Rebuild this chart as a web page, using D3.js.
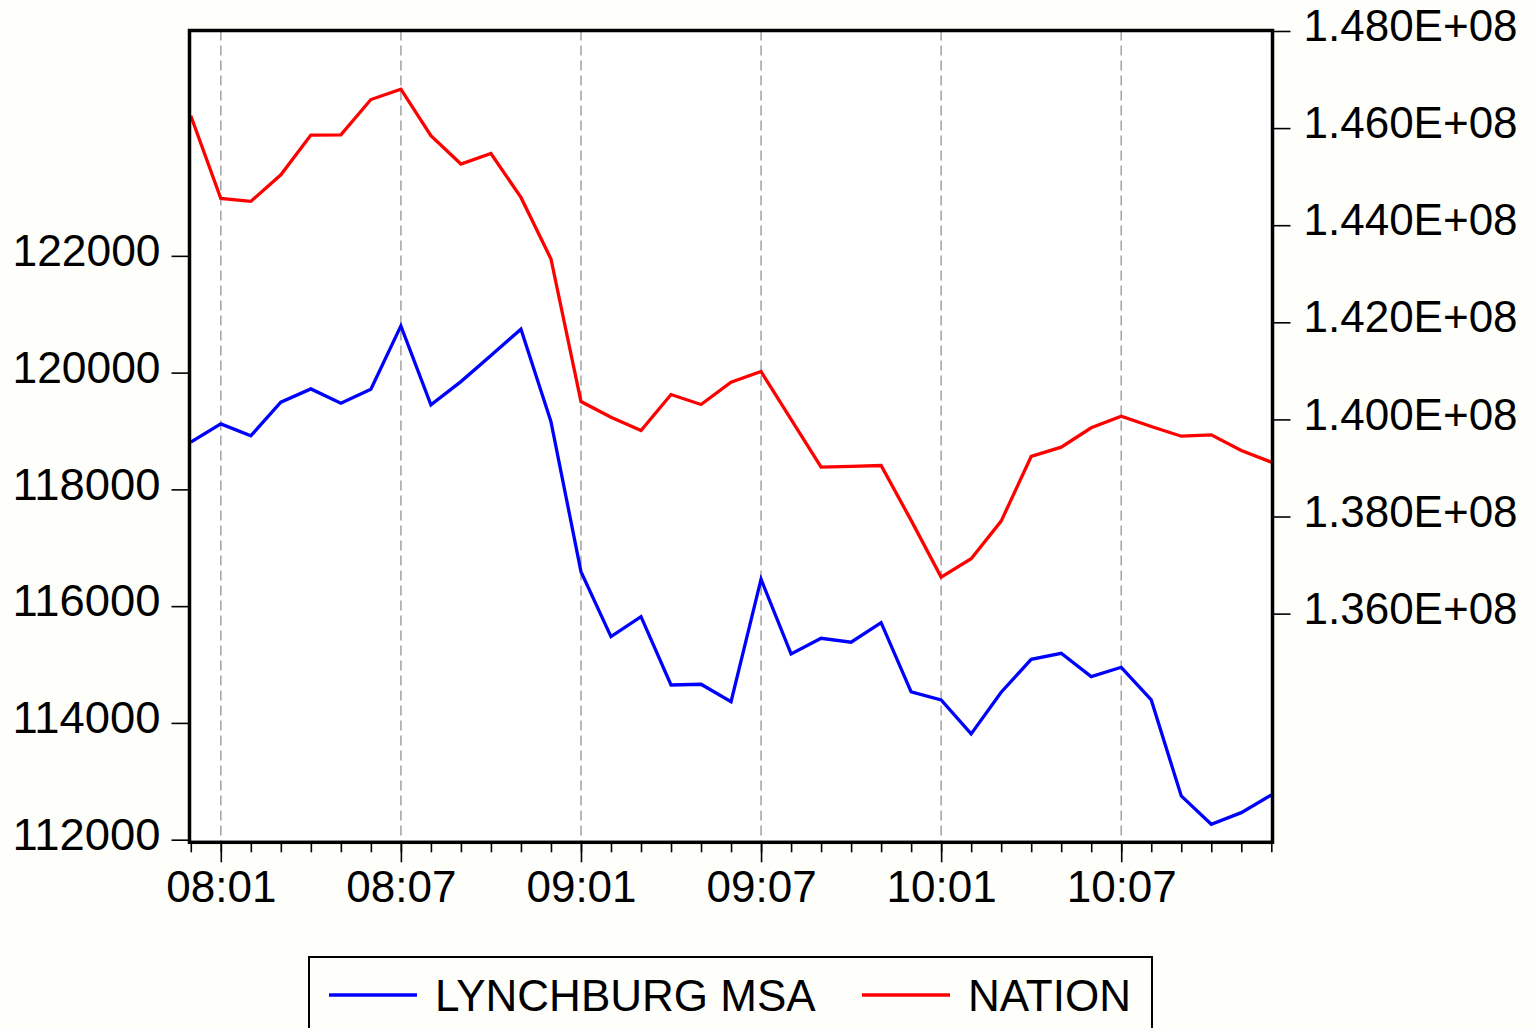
<!DOCTYPE html>
<meta charset="utf-8">
<title>lynchburg-nation</title>
<style>
  body { margin: 0; background: #fefefa; }
  text { font-family: "Liberation Sans", Arial, sans-serif; fill: #000; }
</style>
<body>
<script src="https://d3js.org/d3.v7.min.js"></script>
<script>
var width = 1536, height = 1028;

// monthly observations, 2007:12 .. 2010:12
var months = ["07:12",
  "08:01","08:02","08:03","08:04","08:05","08:06","08:07","08:08","08:09","08:10","08:11","08:12",
  "09:01","09:02","09:03","09:04","09:05","09:06","09:07","09:08","09:09","09:10","09:11","09:12",
  "10:01","10:02","10:03","10:04","10:05","10:06","10:07","10:08","10:09","10:10","10:11","10:12"];
var monthLabels = ["08:01", "08:07", "09:01", "09:07", "10:01", "10:07"];

// LYNCHBURG MSA (left axis)
var lynchburg = [118808,
  119121, 118916, 119493, 119721, 119476, 119716, 120800, 119447, 119846, 120295, 120744, 119161,
  116591, 115478, 115820, 114650, 114662, 114364, 116461, 115181, 115450, 115382, 115717, 114530,
  114393, 113811, 114525, 115090, 115193, 114792, 114953, 114393, 112749, 112264, 112463, 112766];

// NATION (right axis)
var nation = [146253000,
  144551000, 144490000, 145039000, 145856000, 145862000, 146588000, 146802000, 145842000, 145259000, 145477000, 144572000, 143305000,
  140368000, 140045000, 139772000, 140512000, 140307000, 140765000, 140986000, 140002000, 139016000, 139031000, 139051000, 137920000,
  136753000, 137132000, 137905000, 139237000, 139428000, 139827000, 140066000, 139854000, 139654000, 139683000, 139360000, 139120000];

var leftTicks = [112000, 114000, 116000, 118000, 120000, 122000];
var rightTicks = [136000000, 138000000, 140000000, 142000000, 144000000, 146000000, 148000000];

var series = [
  {name: "LYNCHBURG MSA", color: "#0000ff", values: lynchburg, axis: "left"},
  {name: "NATION", color: "#ff0000", values: nation, axis: "right"}
];

var plot = {left: 189.5, right: 1272.5, top: 30.5, bottom: 842.3};

var svg = d3.select('body').append('svg')
    .attr('width', width)
    .attr('height', height);

var x = d3.scalePoint()
    .domain(months)
    .range([190.8, 1271.3]);

var yLeft = d3.scaleLinear()
    .domain([111955, 125860])
    .range([plot.bottom, plot.top]);

var yRight = d3.scaleLinear()
    .domain([131290000, 148010000])
    .range([plot.bottom, plot.top]);

// plot background
svg.append('rect')
    .attr('x', plot.left)
    .attr('y', plot.top)
    .attr('width', plot.right - plot.left)
    .attr('height', plot.bottom - plot.top)
    .attr('fill', '#fff');

// dashed gridlines at the labelled months
svg.append('g')
  .selectAll('line')
  .data(monthLabels)
  .enter().append('line')
    .attr('x1', function(d) { return x(d); })
    .attr('x2', function(d) { return x(d); })
    .attr('y1', plot.top)
    .attr('y2', plot.bottom)
    .attr('stroke', '#a8a8a8')
    .attr('stroke-width', 1.6)
    .attr('stroke-dasharray', '10,5');

// x axis: every month a short tick, labelled months longer
var xMinor = svg.append('g')
    .attr('transform', 'translate(0,' + plot.bottom + ')')
    .call(d3.axisBottom(x).tickValues(months).tickSize(10).tickFormat(''));
var xMajor = svg.append('g')
    .attr('transform', 'translate(0,' + plot.bottom + ')')
    .call(d3.axisBottom(x).tickValues(monthLabels).tickSize(20).tickPadding(8));

var yl = svg.append('g')
    .attr('transform', 'translate(' + plot.left + ',0)')
    .call(d3.axisLeft(yLeft).tickValues(leftTicks).tickSize(18).tickPadding(11).tickFormat(d3.format('d')));

var yr = svg.append('g')
    .attr('transform', 'translate(' + plot.right + ',0)')
    .call(d3.axisRight(yRight).tickValues(rightTicks).tickSize(18).tickPadding(13)
      .tickFormat(function(d) { return (d / 1e8).toFixed(3) + 'E+08'; }));

[xMinor, xMajor, yl, yr].forEach(function(g) {
  g.select('.domain').remove();
  g.selectAll('.tick line').attr('stroke', '#000').attr('stroke-width', 1.6);
  g.selectAll('.tick text')
      .style('font-size', '44px')
      .style('font-family', '"Liberation Sans", Arial, sans-serif')
      .attr('fill', '#000');
});
// value labels sit a little above their ticks
[yl, yr].forEach(function(g) {
  g.selectAll('.tick text').attr('dy', '0.22em');
});
yl.selectAll('.tick text').attr('textLength', 148).attr('lengthAdjust', 'spacingAndGlyphs');

// lines
series.forEach(function(s) {
  var yScale = s.axis === 'left' ? yLeft : yRight;
  var line = d3.line()
      .x(function(d, i) { return x(months[i]); })
      .y(function(d) { return yScale(d); });
  svg.append('path')
      .datum(s.values)
      .attr('d', line)
      .attr('fill', 'none')
      .attr('stroke', s.color)
      .attr('stroke-width', 3.3)
      .attr('stroke-linejoin', 'miter');
});

// frame
svg.append('rect')
    .attr('x', plot.left)
    .attr('y', plot.top)
    .attr('width', plot.right - plot.left)
    .attr('height', plot.bottom - plot.top)
    .attr('fill', 'none')
    .attr('stroke', '#000')
    .attr('stroke-width', 3.5);

// legend
var legend = svg.append('g');
legend.append('rect')
    .attr('x', 309)
    .attr('y', 957)
    .attr('width', 843)
    .attr('height', 120)
    .attr('fill', 'none')
    .attr('stroke', '#000')
    .attr('stroke-width', 2);

var legendX = [329, 862];
series.forEach(function(s, i) {
  legend.append('line')
      .attr('x1', legendX[i])
      .attr('x2', legendX[i] + 88)
      .attr('y1', 995)
      .attr('y2', 995)
      .attr('stroke', s.color)
      .attr('stroke-width', 3.3);
  legend.append('text')
      .attr('x', legendX[i] + 106)
      .attr('y', 1011)
      .style('font-size', '44px')
      .text(s.name);
});
</script>
</body>
